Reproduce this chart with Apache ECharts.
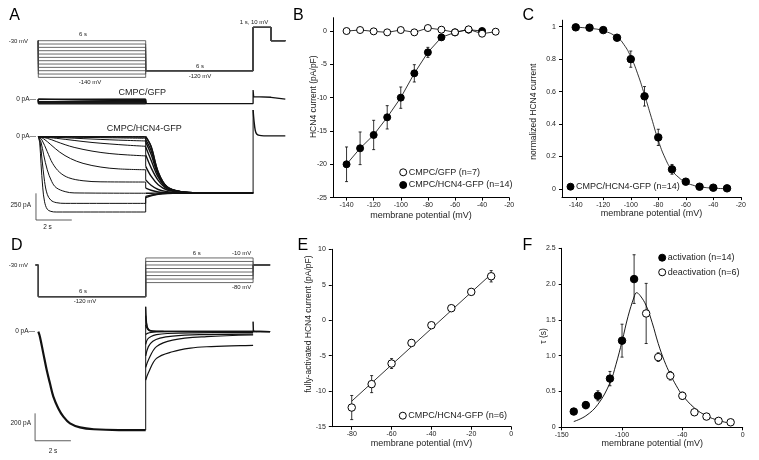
<!DOCTYPE html>
<html lang="en">
<head>
<meta charset="utf-8">
<title>HCN4 currents in CMPC</title>
<script src="https://cdn.jsdelivr.net/npm/echarts@6/dist/echarts.min.js"></script>
<style>html,body{margin:0;background:#fff}#main{width:759px;height:460px}</style>
</head>
<body>
<div id="main"></div>
<script>
// ---------- A: voltage protocol (mV) and current sweeps (time s, current pA) ----------
var aHold = -30, aTest = -120, aPulse = 10;
var aSteps = [-30, -40, -50, -60, -70, -80, -90, -100, -110, -120, -130, -140];
var aGfpStep = [3, 0, -4, -8, -12, -16, -20, -24, -28, -33, -38, -44];
var aGfpRest = [[6, -40], [12, -40], [12, 87], [12.03, 25], [12.1, 19], [13, 19], [13, 2], [13.8, 2]];
// CMPC/HCN4-GFP, activation during the 6 s step (one array per step, -30 ... -140 mV)
var aHcnStep = [
  [[0, 0], [6, 0]],
  [[0, 0], [6, 0]],
  [[0, 0], [3, -2], [6, -5]],
  [[0, 0], [2, -5], [4, -10], [6, -15]],
  [[0, 0], [1, -6], [2, -14], [3, -22], [4, -29], [5, -35], [6, -40]],
  [[0, 0], [1, -15], [2, -35], [3, -54], [4, -68], [5, -80], [6, -90]],
  [[0, 0], [0.5, -15], [1, -45], [1.5, -75], [2, -100], [3, -135], [4, -158], [5, -171], [6, -180]],
  [[0, 0], [0.3, -20], [0.7, -75], [1.2, -145], [1.8, -205], [2.5, -250], [3.5, -285], [4.5, -302], [6, -310]],
  [[0, 0], [0.2, -30], [0.5, -140], [0.8, -250], [1.2, -335], [1.7, -385], [2.5, -413], [3.5, -423], [6, -425]],
  [[0, 0], [0.15, -50], [0.3, -170], [0.5, -310], [0.75, -420], [1, -478], [1.5, -515], [2, -527], [6, -530]],
  [[0, 0], [0.1, -50], [0.2, -200], [0.35, -420], [0.5, -540], [0.7, -595], [1, -618], [1.5, -625], [6, -625]],
  [[0, 0], [0.08, -60], [0.15, -250], [0.25, -480], [0.35, -610], [0.5, -680], [0.7, -700], [1, -706], [6, -706]]
];
// tail at -120 mV
var aTailT = [6, 6.3, 6.7, 7.2, 8, 9, 12];
var aHcnTail = [
  [0, -90, -330, -470, -515, -526, -528],
  [0, -95, -335, -472, -516, -526, -528],
  [-28, -130, -345, -475, -516, -526, -528],
  [-51, -165, -360, -480, -517, -526, -528],
  [-97, -220, -380, -485, -518, -526, -528],
  [-170, -290, -410, -490, -520, -527, -528],
  [-278, -370, -450, -500, -522, -527, -528],
  [-405, -455, -495, -515, -526, -528, -528],
  [-482, -502, -518, -525, -528, -528, -528],
  [-530, -530, -529, -528, -528, -528, -528],
  [-559, -548, -537, -531, -528, -528, -528],
  [-572, -555, -540, -532, -529, -528, -528]
];
var aHcnPulse = [[12, 250], [12.05, 150], [12.12, 60], [12.2, 25], [12.35, 12], [12.6, 8], [13, 8], [13.8, 8]];
var aScaleBar = [[-0.13, -531], [-0.13, -781], [1.87, -781]];

// ---------- D: deactivation protocol and sweeps ----------
var dHold = -30, dPre = -120;
var dSteps = [-10, -20, -30, -40, -50, -60, -70, -80];
var dAct = [[0, 0], [0.09, -36], [0.28, -158], [0.47, -280], [0.65, -377], [0.84, -474], [1.12, -560],
  [1.4, -620], [1.77, -669], [2.33, -698], [3.1, -712], [4.5, -718], [6, -718]];
var dTails = [
  [[6, 182], [6.03, 100], [6.07, 45], [6.15, 15], [6.3, 5], [7, 3], [12, 2], [12.95, 1]],
  [[6, 116], [6.04, 65], [6.1, 30], [6.2, 12], [6.4, 5], [7, 3], [12, 2], [12.95, 1]],
  [[6, 49], [6.05, 30], [6.15, 12], [6.3, 5], [7, 2], [12, 1], [12.95, 0]],
  [[6, -20], [6.1, -12], [6.3, -5], [6.6, -2], [7.5, 0], [12, 0], [12.95, 0]],
  [[6, -93], [6.1, -55], [6.3, -35], [6.6, -22], [7.2, -13], [8.5, -8], [12, -7]],
  [[6, -177], [6.15, -109], [6.4, -70], [6.8, -47], [7.5, -32], [9, -22], [12, -17]],
  [[6, -261], [6.15, -206], [6.6, -109], [7.5, -61], [9.4, -36], [12, -24]],
  [[6, -354], [6.15, -300], [6.6, -195], [7.5, -146], [8.5, -120], [9.4, -110], [11.3, -102], [12, -100]]
];
var dReturnSpike = [[12, 0], [12, 73], [12.03, 4], [12.2, 0]];
var dScaleBar = [[-0.18, -596], [-0.18, -796], [1.82, -796]];

// ---------- B: current density ----------
var bV = [-140, -130, -120, -110, -100, -90, -80, -70, -60, -50, -40, -30];
var bGfp = [0, 0.15, -0.05, -0.2, 0.15, -0.2, 0.45, 0.2, -0.2, 0.25, -0.4, -0.1];
var bHcn = [-20.0, -17.6, -15.6, -12.95, -10.0, -6.35, -3.2, -0.95, -0.2, 0.2, 0.0];
var bHcnErr = [2.6, 2.45, 2.2, 1.75, 1.6, 1.3, 0.75, 0.4, 0.2, 0.2, 0.2];
var bXTicks = [-140, -120, -100, -80, -60, -40, -20];
var bYTicks = [-25, -20, -15, -10, -5, 0];

// ---------- C: activation curve ----------
var cV = [-140, -130, -120, -110, -100, -90, -80, -70, -60, -50, -40, -30];
var cNorm = [0.996, 0.994, 0.979, 0.932, 0.80, 0.571, 0.318, 0.121, 0.045, 0.014, 0.008, 0.004];
var cErr = [0.01, 0.01, 0.01, 0.015, 0.05, 0.06, 0.05, 0.03, 0.01, 0.005, 0.005, 0.005];
var cFit = [[-140, 0.997], [-130, 0.99], [-120, 0.975], [-110, 0.935], [-105, 0.89], [-100, 0.815],
  [-95, 0.71], [-90, 0.58], [-85, 0.44], [-80, 0.30], [-75, 0.19], [-70, 0.115], [-65, 0.07],
  [-60, 0.04], [-55, 0.024], [-50, 0.014], [-40, 0.005], [-30, 0.002]];
var cXTicks = [-140, -120, -100, -80, -60, -40, -20];
var cYTicks = [0, 0.2, 0.4, 0.6, 0.8, 1];
var cYLabels = ['0', '0.2', '0.4', '0.6', '0.8', '1'];

// ---------- E: fully-activated I-V ----------
var eV = [-80, -70, -60, -50, -40, -30, -20, -10];
var eCur = [-12.3, -9.0, -6.1, -3.2, -0.7, 1.7, 4.0, 6.2];
var eErr = [1.7, 1.2, 0.7, 0.4, 0.3, 0.3, 0.3, 0.8];
var eFit = [[-80, -11.4], [-10, 6.5]];
var eXTicks = [-80, -60, -40, -20, 0];
var eYTicks = [-15, -10, -5, 0, 5, 10];

// ---------- F: time constants ----------
var fActV = [-140, -130, -120, -110, -100, -90];
var fAct = [0.22, 0.31, 0.44, 0.68, 1.21, 2.07];
var fActErr = [0.03, 0.05, 0.07, 0.1, 0.23, 0.34];
var fDeactV = [-80, -70, -60, -50, -40, -30, -20, -10];
var fDeact = [1.59, 0.98, 0.72, 0.44, 0.21, 0.15, 0.09, 0.07];
var fDeactErr = [0.42, 0.06, 0.06, 0.05, 0.02, 0.02, 0.01, 0.01];
var fFit = [[-140, 0.08], [-130, 0.16], [-120, 0.32], [-110, 0.62], [-105, 0.88], [-100, 1.2], [-95, 1.55],
  [-90, 1.82], [-88, 1.88], [-85, 1.84], [-80, 1.70], [-75, 1.46], [-70, 1.17], [-65, 0.93], [-60, 0.74],
  [-55, 0.58], [-50, 0.45], [-40, 0.27], [-30, 0.16], [-20, 0.095], [-10, 0.055]];
var fXTicks = [-150, -100, -50, 0];
var fXLabels = ['-150', '-100', '-40', '0'];
var fYTicks = [0, 0.5, 1, 1.5, 2, 2.5];
var fYLabels = ['0', '0.5', '1.0', '1.5', '2.0', '2.5'];

// ---------- helpers ----------
var FONT = '"Liberation Sans", Arial, sans-serif';
var INK = '#111';
var PROTO = { color: '#444', width: 0.8 };

function zip(xs, ys) { return ys.map(function (y, i) { return [xs[i], y]; }); }

function line(data, gi, opt) {
  opt = opt || {};
  return {
    type: 'line', data: data, xAxisIndex: gi, yAxisIndex: gi,
    showSymbol: false, symbol: 'none', silent: true,
    smooth: opt.smooth || false,
    lineStyle: { color: opt.color || INK, width: opt.width || 1 },
    z: 2
  };
}

function errorBars(xs, ys, errs, gi) {
  return {
    type: 'custom', xAxisIndex: gi, yAxisIndex: gi, silent: true, z: 1,
    data: ys.map(function (y, i) { return [xs[i], y, errs[i]]; }),
    encode: { x: 0, y: 1 },
    renderItem: function (params, api) {
      var x = api.value(0), m = api.value(1), e = api.value(2);
      var hi = api.coord([x, m + e]), lo = api.coord([x, m - e]);
      var st = { stroke: '#000', lineWidth: 0.8 };
      return { type: 'group', children: [
        { type: 'line', shape: { x1: hi[0], y1: hi[1], x2: lo[0], y2: lo[1] }, style: st },
        { type: 'line', shape: { x1: hi[0] - 1.5, y1: hi[1], x2: hi[0] + 1.5, y2: hi[1] }, style: st },
        { type: 'line', shape: { x1: lo[0] - 1.5, y1: lo[1], x2: lo[0] + 1.5, y2: lo[1] }, style: st }
      ] };
    }
  };
}

function pick(ticks, labels) {
  return function (v) {
    for (var i = 0; i < ticks.length; i++) if (Math.abs(ticks[i] - v) < 1e-9) return labels ? labels[i] : String(ticks[i]);
    return '';
  };
}

function hidden(gi, min, max) { return { type: 'value', gridIndex: gi, min: min, max: max, show: false }; }

function plotAxis(gi, min, max, ticks, labels, extra) {
  var ax = {
    type: 'value', gridIndex: gi, min: min, max: max,
    axisLine: { show: true, onZero: false, lineStyle: { color: '#000', width: 1 } },
    axisTick: { show: true, inside: false, length: 3, customValues: ticks, lineStyle: { color: '#000', width: 1 } },
    axisLabel: { customValues: ticks, formatter: pick(ticks, labels), fontSize: 7, color: '#222', fontFamily: FONT, margin: 4 },
    splitLine: { show: false }
  };
  return Object.assign(ax, extra || {});
}

function xTitle(gap) {
  return { name: 'membrane potential (mV)', nameLocation: 'middle', nameGap: gap,
    nameTextStyle: { fontSize: 9, color: '#222', fontFamily: FONT } };
}

function txt(x, y, s, size, align, rot) {
  return { type: 'text', x: x, y: y, silent: true, rotation: rot || 0,
    style: { text: s, fontSize: size, fontFamily: FONT, fill: '#222', align: align || 'center', verticalAlign: 'middle' } };
}

function legendAt(name, cx, cy, fill) {
  return { show: true, selectedMode: false, orient: 'vertical', padding: 0,
    left: cx - 3.5, top: cy - 4.5, itemWidth: 7, itemHeight: 7, icon: 'circle',
    data: [{ name: name, itemStyle: { color: fill, borderColor: '#000', borderWidth: 1 } }],
    textStyle: { fontSize: 9, color: '#222', fontFamily: FONT, padding: [0, 0, 0, -3] } };
}

// ---------- grids ----------
var grids = [
  { left: 2.5, top: 24.03, width: 286.4, height: 56.67 },   // 0 A protocol
  { left: 2.5, top: 88.63, width: 286.4, height: 26.67 },   // 1 A GFP
  { left: 2.5, top: 104.7, width: 286.4, height: 128.0 },   // 2 A HCN4
  { left: 2.5, top: 250.9, width: 286.4, height: 49.3 },    // 3 D protocol
  { left: 2.5, top: 290.6, width: 286.4, height: 157.55 },  // 4 D current
  { left: 333, top: 17.7, width: 176.2, height: 179.9 },    // 5 B
  { left: 562, top: 20.2, width: 178.8, height: 176.9 },    // 6 C
  { left: 331.8, top: 249.3, width: 179.3, height: 177.4 }, // 7 E
  { left: 561.7, top: 248.3, width: 181, height: 179 }      // 8 F
].map(function (g) { g.containLabel = false; g.outerBoundsMode = 'none'; return g; });

var xAxes = [
  hidden(0, -2, 14), hidden(1, -2, 14), hidden(2, -2, 14), hidden(3, -2, 14), hidden(4, -2, 14),
  plotAxis(5, -150, -20, bXTicks, null, xTitle(13)),
  plotAxis(6, -150, -20, cXTicks, null, xTitle(8)),
  plotAxis(7, -90, 0, eXTicks, null, xTitle(12)),
  plotAxis(8, -150, 0, fXTicks, fXLabels, xTitle(8))
];
var yAxes = [
  hidden(0, -150, 20), hidden(1, -150, 100), hidden(2, -900, 300), hidden(3, -130, 10), hidden(4, -850, 300),
  plotAxis(5, -25, 2, bYTicks),
  plotAxis(6, -0.05, 1.04, cYTicks, cYLabels),
  plotAxis(7, -15, 10, eYTicks),
  plotAxis(8, 0, 2.5, fYTicks, fYLabels)
];
yAxes.slice(5).forEach(function (a) { a.axisLabel.margin = 6; });

// ---------- series ----------
var series = [];

// A protocol
aSteps.forEach(function (v) {
  series.push(line([[0, aHold], [0, v], [6, v], [6, aTest], [12, aTest], [12, aPulse],
    [13, aPulse], [13, aHold], [13.8, aHold]], 0, PROTO));
});
// A GFP sweeps
aGfpStep.forEach(function (lvl) {
  series.push(line([[0, 0], [0, lvl], [6, lvl], [6, aGfpRest[0][1]]], 1, { width: 1 }));
});
series.push(line(aGfpRest, 1, { width: 1.3 }));
// A HCN4 sweeps
aHcnStep.forEach(function (seg, i) {
  var tail = zip(aTailT, aHcnTail[i]);
  series.push(line(seg, 2, { smooth: 0.35, width: 1 }));
  series.push(line([seg[seg.length - 1], tail[0]], 2, { width: 1 }));
  series.push(line(tail, 2, { smooth: 0.35, width: 1.4 }));
});
series.push(line([[12, aHcnTail[0][aHcnTail[0].length - 1]], aHcnPulse[0]], 2, { width: 1 }));
series.push(line(aHcnPulse, 2, { smooth: 0.35, width: 1.4 }));
series.push(line(aScaleBar, 2, { color: '#333', width: 0.8 }));

// D protocol
dSteps.forEach(function (v) {
  series.push(line([[-0.15, dHold], [0, dHold], [0, dPre], [6, dPre], [6, v], [12, v], [12, dHold], [12.95, dHold]], 3, PROTO));
});
// D currents
series.push(line(dAct, 4, { smooth: 0.35, width: 2.2 }));
series.push(line([dAct[dAct.length - 1], dTails[0][0]], 4, { width: 1 }));
dTails.forEach(function (seg) { series.push(line(seg, 4, { smooth: 0.35, width: 1.2 })); });
series.push(line(dReturnSpike, 4, { width: 1 }));
series.push(line(dScaleBar, 4, { color: '#333', width: 0.8 }));

// B
series.push(errorBars(bV, bHcn, bHcnErr, 5));
series.push({
  type: 'line', name: 'CMPC/HCN4-GFP (n=14)', xAxisIndex: 5, yAxisIndex: 5, data: zip(bV, bHcn),
  symbol: 'circle', symbolSize: 7, showAllSymbol: true, z: 3,
  itemStyle: { color: '#000', borderColor: '#000', borderWidth: 1 }, lineStyle: { color: '#000', width: 0.8 }
});
series.push({
  type: 'line', name: 'CMPC/GFP (n=7)', xAxisIndex: 5, yAxisIndex: 5, data: zip(bV, bGfp),
  symbol: 'circle', symbolSize: 7, showAllSymbol: true, z: 4,
  itemStyle: { color: '#fff', borderColor: '#000', borderWidth: 1 }, lineStyle: { color: '#000', width: 0.8 }
});

// C
series.push(errorBars(cV, cNorm, cErr, 6));
series.push(line(cFit, 6, { smooth: 0.5, width: 0.8, color: '#000' }));
series.push({
  type: 'scatter', name: 'CMPC/HCN4-GFP (n=14)', xAxisIndex: 6, yAxisIndex: 6, data: zip(cV, cNorm),
  symbol: 'circle', symbolSize: 7.5, z: 3, itemStyle: { color: '#000', borderColor: '#000', borderWidth: 1, opacity: 1 }
});

// E
series.push(errorBars(eV, eCur, eErr, 7));
series.push(line(eFit, 7, { width: 0.8, color: '#000' }));
series.push({
  type: 'scatter', name: 'CMPC/HCN4-GFP (n=6)', xAxisIndex: 7, yAxisIndex: 7, data: zip(eV, eCur),
  symbol: 'circle', symbolSize: 7.5, z: 3, itemStyle: { color: '#fff', borderColor: '#000', borderWidth: 1, opacity: 1 }
});

// F
series.push(errorBars(fActV, fAct, fActErr, 8));
series.push(errorBars(fDeactV, fDeact, fDeactErr, 8));
series.push(line(fFit, 8, { smooth: 0.4, width: 0.9, color: '#000' }));
series.push({
  type: 'scatter', name: 'activation (n=14)', xAxisIndex: 8, yAxisIndex: 8, data: zip(fActV, fAct),
  symbol: 'circle', symbolSize: 7.5, z: 3, itemStyle: { color: '#000', borderColor: '#000', borderWidth: 1, opacity: 1 }
});
series.push({
  type: 'scatter', name: 'deactivation (n=6)', xAxisIndex: 8, yAxisIndex: 8, data: zip(fDeactV, fDeact),
  symbol: 'circle', symbolSize: 7.5, z: 3, itemStyle: { color: '#fff', borderColor: '#000', borderWidth: 1, opacity: 1 }
});

// ---------- text ----------
var texts = [
  // panel letters
  txt(14.7, 15.8, 'A', 16), txt(298.3, 15.3, 'B', 16), txt(528.3, 15.3, 'C', 16),
  txt(16.7, 245.3, 'D', 16), txt(302.8, 245.3, 'E', 16), txt(527.5, 245.3, 'F', 16),
  // A annotations
  txt(28, 41, '-30 mV', 6, 'right'), txt(83, 34, '6 s', 6), txt(90, 82, '-140 mV', 6),
  txt(200, 66, '6 s', 6), txt(200, 76, '-120 mV', 6), txt(254, 22.7, '1 s, 10 mV', 6),
  txt(36, 99.3, '0 pA\u2014', 6.5, 'right'), txt(142.3, 92.7, 'CMPC/GFP', 9),
  txt(36, 136.7, '0 pA\u2014', 6.5, 'right'), txt(144.2, 128.3, 'CMPC/HCN4-GFP', 9),
  txt(31, 205.7, '250 pA', 6.5, 'right'), txt(47.5, 227.3, '2 s', 6.5),
  // D annotations
  txt(28, 265, '-30 mV', 6, 'right'), txt(83, 291, '6 s', 6), txt(85, 301.7, '-120 mV', 6),
  txt(196.7, 253.3, '6 s', 6), txt(241.7, 253.3, '-10 mV', 6), txt(241.7, 287.3, '-80 mV', 6),
  txt(35, 331.7, '0 pA\u2014', 6.5, 'right'), txt(31, 423.3, '200 pA', 6.5, 'right'), txt(53, 451.7, '2 s', 6.5),
  // y axis titles
  txt(313.3, 96.7, 'HCN4 current (pA/pF)', 8.5, 'center', Math.PI / 2),
  txt(533.3, 111.7, 'normalized HCN4 current', 8.5, 'center', Math.PI / 2),
  txt(308.3, 324, 'fully-activated HCN4 current (pA/pF)', 8.5, 'center', Math.PI / 2),
  txt(543.3, 336, '\u03c4 (s)', 8.5, 'center', Math.PI / 2)
];
texts.forEach(function (t) { if (/^[A-F]$/.test(t.style.text)) t.style.fill = '#000'; });

var chart = echarts.init(document.getElementById('main'), null, { renderer: 'canvas' });
chart.setOption({
  animation: false,
  backgroundColor: '#fff',
  grid: grids,
  xAxis: xAxes,
  yAxis: yAxes,
  legend: [
    legendAt('CMPC/GFP (n=7)', 402.7, 172.3, '#fff'),
    legendAt('CMPC/HCN4-GFP (n=14)', 402.7, 185, '#000'),
    legendAt('CMPC/HCN4-GFP (n=14)', 570, 186.7, '#000'),
    legendAt('CMPC/HCN4-GFP (n=6)', 402.3, 415.7, '#fff'),
    legendAt('activation (n=14)', 661.7, 257.7, '#000'),
    legendAt('deactivation (n=6)', 661.7, 272.3, '#fff')
  ],
  graphic: texts,
  series: series
});
</script>
</body>
</html>
